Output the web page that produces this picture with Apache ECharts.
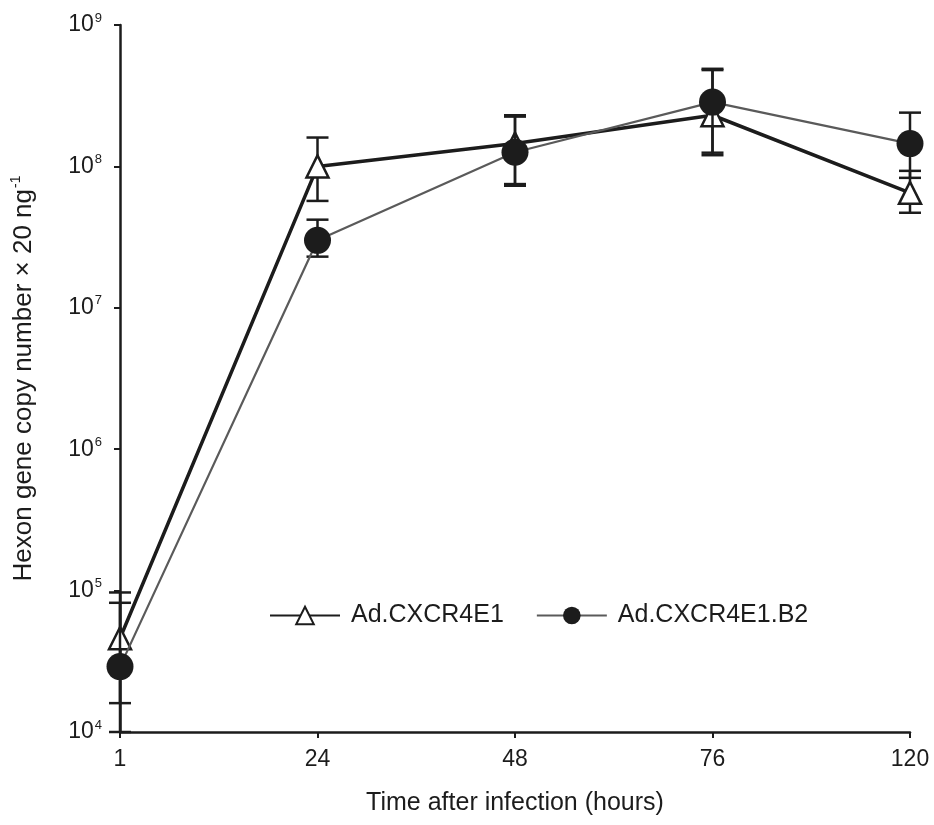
<!DOCTYPE html>
<html>
<head>
<meta charset="utf-8">
<script src="https://cdn.jsdelivr.net/npm/echarts@6/dist/echarts.min.js"></script>
<style>
  html, body { margin: 0; padding: 0; background: #fff; }
  #chart { width: 934px; height: 825px; }
</style>
</head>
<body>
<div id="chart"></div>
<script>
// Sampling times (hours after infection)
const hours = ['1', '24', '48', '76', '120'];

// Ad.CXCR4E1: mean and error-bar limits
const e1Mean = [4.6e4, 1.0e8, 1.45e8, 2.3e8, 6.5e7];
const e1Low  = [1.0e4, 5.7e7, 7.5e7, 1.25e8, 4.7e7];
const e1High = [9.7e4, 1.6e8, 2.25e8, 4.8e8, 9.3e7];

// Ad.CXCR4E1.B2: mean and error-bar limits
const b2Mean = [2.9e4, 3.0e7, 1.26e8, 2.85e8, 1.45e8];
const b2Low  = [1.6e4, 2.3e7, 7.3e7, 1.2e8, 8.3e7];
const b2High = [8.2e4, 4.2e7, 2.3e8, 4.9e8, 2.4e8];

const yTicks = [4, 5, 6, 7, 8, 9];

const FONT = '"Liberation Sans", Arial, sans-serif';
const INK = '#1c1c1c';

function errorData(low, high) {
  return low.map((l, i) => [i, l, high[i]]);
}

function renderError(capHalf, width) {
  return function (params, api) {
    const lo = api.coord([api.value(0), api.value(1)]);
    const hi = api.coord([api.value(0), api.value(2)]);
    const style = { stroke: INK, lineWidth: width };
    return {
      type: 'group',
      children: [
        { type: 'line', shape: { x1: lo[0], y1: lo[1], x2: hi[0], y2: hi[1] }, style },
        { type: 'line', shape: { x1: hi[0] - capHalf, y1: hi[1], x2: hi[0] + capHalf, y2: hi[1] }, style },
        { type: 'line', shape: { x1: lo[0] - capHalf, y1: lo[1], x2: lo[0] + capHalf, y2: lo[1] }, style }
      ]
    };
  };
}

const chart = echarts.init(document.getElementById('chart'));
chart.setOption({
  animation: false,
  backgroundColor: '#fff',
  grid: { left: 120, right: 24, top: 25, bottom: 93 },
  legend: {
    left: 264,
    top: 598,
    itemWidth: 70,
    itemHeight: 22,
    itemGap: 32,
    textStyle: { fontFamily: FONT, fontSize: 25, color: INK, padding: [0, 0, 0, 6] },
    data: ['Ad.CXCR4E1', 'Ad.CXCR4E1.B2']
  },
  xAxis: {
    type: 'category',
    data: hours,
    boundaryGap: false,
    axisLine: { lineStyle: { color: INK, width: 2.5 } },
    axisTick: { show: true, length: 6, lineStyle: { color: INK, width: 2 } },
    axisLabel: { fontFamily: FONT, fontSize: 23, color: INK, margin: 16 },
    name: 'Time after infection (hours)',
    nameLocation: 'middle',
    nameGap: 59,
    nameTextStyle: { fontFamily: FONT, fontSize: 25, color: INK },
    splitLine: { show: false }
  },
  yAxis: {
    type: 'log',
    logBase: 10,
    min: 1e4,
    max: 1e9,
    interval: 1,
    axisLine: { show: true, lineStyle: { color: INK, width: 2.5 } },
    axisTick: { show: true, length: 6, lineStyle: { color: INK, width: 2 } },
    axisLabel: {
      margin: 18,
      formatter: function (v) {
        const e = Math.round(Math.log10(v));
        return yTicks.indexOf(e) >= 0 ? '{b|10}{s|' + e + '}' : '';
      },
      rich: {
        b: { fontFamily: FONT, fontSize: 23, color: INK },
        s: { fontFamily: FONT, fontSize: 13, color: INK, padding: [0, 0, 14, 1] }
      }
    },
    splitLine: { show: false },
    name: '{a|Hexon gene copy number × 20 ng}{s|-1}',
    nameLocation: 'middle',
    nameGap: 82,
    nameRotate: 90,
    nameTextStyle: {
      rich: {
        a: { fontFamily: FONT, fontSize: 26, color: INK },
        s: { fontFamily: FONT, fontSize: 14, color: INK, padding: [0, 0, 15, 1] }
      }
    }
  },
  series: [
    {
      name: 'Ad.CXCR4E1',
      type: 'line',
      data: e1Mean,
      z: 3,
      symbol: 'triangle',
      symbolSize: 22,
      lineStyle: { color: INK, width: 3.5 },
      itemStyle: { color: '#fff', borderColor: INK, borderWidth: 2.5 }
    },
    {
      type: 'custom',
      z: 2,
      data: errorData(e1Low, e1High),
      encode: { x: 0, y: [1, 2] },
      renderItem: renderError(11, 2.5),
      silent: true
    },
    {
      name: 'Ad.CXCR4E1.B2',
      type: 'line',
      data: b2Mean,
      z: 5,
      symbol: 'circle',
      symbolSize: 27,
      lineStyle: { color: '#5a5a5a', width: 2.2 },
      itemStyle: { color: INK, borderColor: INK, borderWidth: 0 }
    },
    {
      type: 'custom',
      z: 4,
      data: errorData(b2Low, b2High),
      encode: { x: 0, y: [1, 2] },
      renderItem: renderError(11, 2.5),
      silent: true
    }
  ]
});
</script>
</body>
</html>
